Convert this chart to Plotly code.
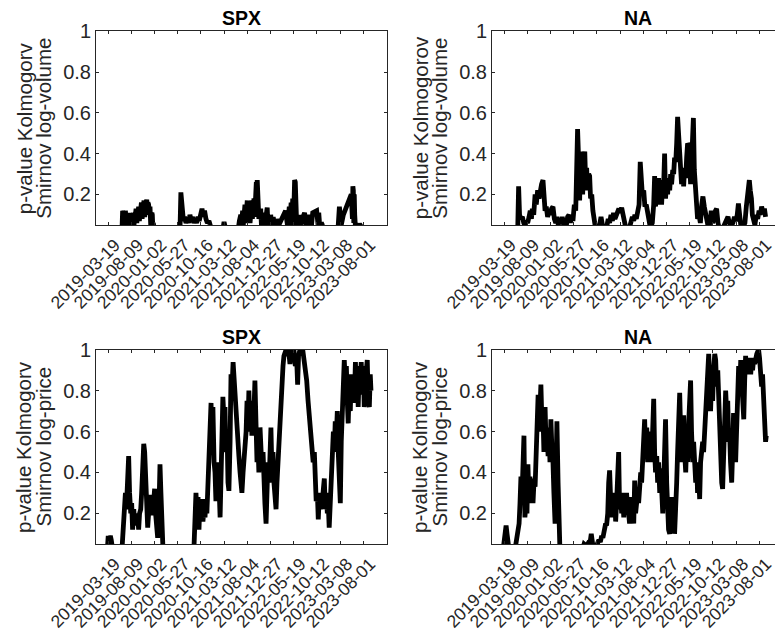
import plotly.graph_objects as go

# ---------------- data (observation index, p-value) ----------------
date_labels = ["2019-03-19", "2019-08-09", "2020-01-02", "2020-05-27", "2020-10-16",
               "2021-03-12", "2021-08-04", "2021-12-27", "2022-05-19", "2022-10-12",
               "2023-03-08", "2023-08-01"]
tick_idx = [0, 100, 200, 300, 400, 500, 600, 700, 800, 900, 1000, 1100]
ytick_vals = [0.2, 0.4, 0.6, 0.8, 1.0]
ytick_text = ["0.2", "0.4", "0.6", "0.8", "1"]

spx_vol_x = [-40, 60, 63, 66, 69, 72, 75, 79, 82, 85, 88, 90, 94, 98, 101, 103, 106, 109, 112, 115, 118,
             121, 124, 126, 129, 132, 135, 138, 141, 144, 147, 149, 152, 155, 158, 161, 164, 167, 170,
             172, 175, 177, 179, 181, 184, 187, 189, 191, 193, 195, 201,
             310, 314, 319, 325, 330, 336, 342, 348, 353, 359, 365, 370, 376, 382, 388, 393, 399, 405,
             411, 416, 422, 428, 435, 442, 448,
             494, 500, 507,
             560, 566, 572, 576, 580, 583, 586, 588, 590, 593, 595, 598, 600, 603, 605, 607, 609, 612,
             615, 618, 620, 622, 623, 626, 629, 632, 635, 637, 639, 641, 643, 646, 648, 650, 652,
             655, 658, 661, 663, 666, 669, 672, 675, 678, 681, 684, 686, 689, 692, 695, 698, 701, 704,
             707, 709, 712, 715, 718, 721, 724, 727, 732,
             765, 773, 776, 778, 781, 783, 785, 787, 789, 791, 794, 796, 799, 801, 804, 807, 810, 813,
             815, 817, 819, 821, 824, 827, 833,
             847, 853, 856, 859, 862, 864, 867, 870, 873, 876, 882,
             899, 905, 908, 910, 913, 916, 919, 922, 928,
             991, 997, 1005, 1014,
             1048, 1053, 1055, 1057, 1059, 1061, 1063, 1066, 1068, 1070, 1072, 1074, 1078, 1084,
             1097, 1103, 1110, 1117, 1124, 1130]
spx_vol_y = [0.02, 0.02, 0.12, 0.05, 0.12, 0.04, 0.12, 0.06, 0.11, 0.04, 0.11, 0.05, 0.09, 0.10, 0.04,
             0.07, 0.11, 0.11, 0.05, 0.08, 0.12, 0.13, 0.06, 0.09, 0.14, 0.14, 0.07, 0.10, 0.15, 0.16,
             0.08, 0.12, 0.17, 0.17, 0.09, 0.13, 0.175, 0.175, 0.10, 0.16, 0.15, 0.12, 0.06, 0.14,
             0.05, 0.08, 0.11, 0.10, 0.04, 0.06, 0.02,
             0.02, 0.21, 0.10, 0.07, 0.09, 0.06, 0.08, 0.06, 0.10, 0.07, 0.09, 0.06, 0.08, 0.06, 0.09,
             0.07, 0.10, 0.13, 0.09, 0.12, 0.08, 0.06, 0.07, 0.05, 0.02,
             0.02, 0.065, 0.03,
             0.02, 0.07, 0.10, 0.06, 0.12, 0.05, 0.08, 0.13, 0.15, 0.06, 0.10, 0.16, 0.17, 0.07, 0.12,
             0.16, 0.16, 0.06, 0.11, 0.17, 0.17, 0.08, 0.13, 0.18, 0.18, 0.09, 0.20, 0.22, 0.26, 0.24,
             0.27, 0.15, 0.20, 0.08, 0.10, 0.12, 0.13, 0.05, 0.07, 0.11, 0.06, 0.10, 0.04, 0.09, 0.06,
             0.12, 0.135, 0.05, 0.08, 0.10, 0.04, 0.10, 0.06, 0.09, 0.04, 0.09, 0.05, 0.08, 0.03,
             0.03, 0.08, 0.04, 0.12, 0.05, 0.07, 0.13, 0.14, 0.05, 0.09, 0.15, 0.16, 0.06, 0.12, 0.18,
             0.05, 0.22, 0.27, 0.26, 0.12, 0.05, 0.10, 0.06, 0.03,
             0.03, 0.10, 0.04, 0.07, 0.11, 0.04, 0.09, 0.06, 0.10, 0.04, 0.03,
             0.03, 0.09, 0.04, 0.11, 0.12, 0.05, 0.11, 0.08, 0.03,
             0.03, 0.06, 0.055, 0.03,
             0.03, 0.14, 0.05, 0.10, 0.20, 0.08, 0.24, 0.22, 0.06, 0.20, 0.10, 0.04, 0.06, 0.03,
             0.03, 0.055, 0.04, 0.055, 0.03, 0.02]

na_vol_x = [-40, 59, 63, 67, 73, 79, 85, 90, 96, 102, 108, 113, 118, 122, 128, 134, 139, 145, 151, 157,
            162, 168, 172, 177, 182, 188, 194, 200, 205, 211, 217, 223, 228, 234, 240, 246, 251, 257,
            263, 269, 274, 280, 286, 292, 297, 303, 309, 314, 317, 322, 326, 330, 335, 339, 343, 348,
            352, 356, 360, 365, 369, 373, 378, 383, 389, 395,
            409, 418, 424, 435, 444, 449, 455, 461, 467, 472, 478, 484, 490, 495, 501, 507, 513, 518,
            524, 539, 547, 553, 559, 564, 570, 576, 582, 587, 592, 596, 602, 607, 613, 619, 625, 630,
            639, 645, 649, 653, 658, 662, 666, 671, 675, 679, 684, 688, 692, 696, 701, 705, 709, 714,
            718, 722, 727, 731, 735, 740, 744, 748, 752, 757, 761, 765, 770, 774, 778, 783, 787, 791,
            796, 800, 804, 808, 813, 816, 820, 824, 829, 834, 840, 846, 852, 857, 863, 869, 875, 880,
            888, 893, 899, 905, 911, 916, 922, 928, 941, 949, 958, 965, 971, 978, 986, 993, 999, 1005,
            1010, 1015, 1021, 1030, 1038, 1044, 1049, 1053, 1057, 1061, 1066, 1070, 1076, 1081, 1087,
            1093, 1099, 1104, 1110, 1116, 1122, 1127]
na_vol_y = [0.02, 0.02, 0.24, 0.10, 0.08, 0.09, 0.06, 0.05, 0.07, 0.06, 0.09, 0.12, 0.08, 0.13, 0.10, 0.20,
            0.15, 0.22, 0.18, 0.23, 0.25, 0.27, 0.20, 0.12, 0.14, 0.09, 0.12, 0.10, 0.13, 0.14, 0.08,
            0.06, 0.09, 0.05, 0.08, 0.06, 0.09, 0.05, 0.07, 0.05, 0.09, 0.10, 0.06, 0.10, 0.07, 0.15,
            0.12, 0.45, 0.52, 0.35, 0.17, 0.41, 0.30, 0.20, 0.38, 0.41, 0.25, 0.33, 0.22, 0.30, 0.29,
            0.18, 0.20, 0.12, 0.07, 0.03,
            0.03, 0.09, 0.05, 0.03, 0.05, 0.08, 0.06, 0.10, 0.07, 0.11, 0.08, 0.10, 0.12, 0.13, 0.11,
            0.135, 0.10, 0.06, 0.04, 0.03, 0.06, 0.09, 0.07, 0.10, 0.08, 0.11, 0.15, 0.36, 0.30, 0.20,
            0.22, 0.14, 0.15, 0.10, 0.06, 0.04,
            0.06, 0.15, 0.29, 0.14, 0.28, 0.15, 0.28, 0.18, 0.27, 0.15, 0.27, 0.25, 0.40, 0.18, 0.26,
            0.20, 0.28, 0.22, 0.30, 0.25, 0.32, 0.30, 0.38, 0.36, 0.45, 0.58, 0.50, 0.38, 0.33, 0.25,
            0.32, 0.24, 0.33, 0.28, 0.38, 0.45, 0.44, 0.30, 0.25, 0.35, 0.50, 0.575, 0.32, 0.25, 0.12,
            0.08, 0.10, 0.06, 0.15, 0.19, 0.14, 0.10, 0.06, 0.04, 0.06, 0.12, 0.06, 0.08, 0.12, 0.13,
            0.06, 0.03, 0.03, 0.05, 0.06, 0.09, 0.06, 0.05, 0.06, 0.09, 0.07, 0.10, 0.155, 0.06, 0.04,
            0.04, 0.06, 0.14, 0.21, 0.25, 0.27, 0.22, 0.18, 0.10, 0.06, 0.05, 0.10, 0.08, 0.12, 0.10,
            0.14, 0.11, 0.13, 0.09]

spx_price_x = [-3, 1, 6, 10, 14, 19,
               60, 66, 70, 75, 79, 83, 89, 93, 98, 102, 106, 111, 115, 119, 123, 128, 132, 136, 141,
               145, 149, 154, 158, 162, 167, 171, 175, 179, 184, 188, 192, 197, 201, 205, 210, 214, 218,
               224, 228, 233, 237,
               370, 375, 379, 383, 388, 392, 396, 401, 405, 409, 414, 418, 422, 426, 431, 435, 439, 444,
               448, 452, 457, 461, 465, 470, 474, 478, 483, 487, 491, 495, 500, 504, 508, 513, 517, 521,
               526, 530, 534, 539, 543, 547, 551, 556, 560, 564, 569, 573, 577, 582, 586, 590, 595, 599,
               603, 607, 612, 616, 620, 625, 629, 633, 638, 642, 646, 650, 655, 659, 663, 668, 672, 676,
               681, 685, 689, 694, 698, 702, 706, 711, 715, 719, 724, 728, 732, 737, 741, 745, 749, 754,
               758, 762, 767, 773, 778, 784, 790, 796, 801, 807, 813, 817, 821, 827, 833, 839, 844, 850,
               856, 862, 867, 873, 879, 884, 889, 893, 897, 902, 906, 910, 915, 919, 923, 928, 932, 936,
               941, 945, 949, 953, 958, 962, 966, 971, 975, 979, 983, 988, 992, 996, 1001, 1005, 1009,
               1014, 1018, 1022, 1027, 1031, 1035, 1040, 1044, 1048, 1053, 1057, 1061, 1066, 1070, 1074,
               1078, 1083, 1087, 1091, 1096, 1100, 1104, 1109, 1113, 1117, 1121, 1126, 1130, 1133]
spx_price_y = [0.02, 0.09, 0.06, 0.09, 0.07, 0.03,
               0.02, 0.12, 0.20, 0.30, 0.22, 0.30, 0.48, 0.30, 0.20, 0.25, 0.12, 0.22, 0.15, 0.20, 0.14,
               0.19, 0.12, 0.20, 0.22, 0.30, 0.45, 0.54, 0.50, 0.38, 0.22, 0.13, 0.20, 0.29, 0.20, 0.28,
               0.19, 0.30, 0.32, 0.20, 0.12, 0.08, 0.15, 0.44, 0.30, 0.06, 0.02,
               0.02, 0.15, 0.30, 0.20, 0.28, 0.12, 0.25, 0.20, 0.27, 0.16, 0.23, 0.18, 0.27, 0.20, 0.32,
               0.45, 0.60, 0.74, 0.55, 0.72, 0.45, 0.40, 0.26, 0.45, 0.30, 0.35, 0.18, 0.35, 0.55, 0.77,
               0.65, 0.72, 0.50, 0.60, 0.35, 0.31, 0.55, 0.88, 0.80, 0.94, 0.85, 0.78, 0.72, 0.65, 0.58,
               0.48, 0.40, 0.35, 0.30, 0.40, 0.45, 0.52, 0.60, 0.75, 0.62, 0.80, 0.60, 0.70, 0.58, 0.75,
               0.70, 0.85, 0.55, 0.45, 0.55, 0.40, 0.62, 0.48, 0.42, 0.50, 0.32, 0.25, 0.15, 0.30, 0.45,
               0.35, 0.50, 0.62, 0.42, 0.50, 0.35, 0.30, 0.22, 0.35, 0.45, 0.50, 0.62, 0.78, 0.86, 0.92,
               0.97, 0.99, 1.00, 0.97, 1.00, 0.93, 1.00, 0.96, 1.00, 0.92, 0.95, 0.83, 0.97, 1.00, 0.98,
               1.00, 0.96, 0.90, 0.85, 0.75, 0.68, 0.60, 0.55, 0.45, 0.50, 0.30, 0.26, 0.30, 0.17, 0.28,
               0.22, 0.30, 0.25, 0.32, 0.37, 0.22, 0.30, 0.20, 0.25, 0.13, 0.25, 0.35, 0.38, 0.60, 0.50,
               0.65, 0.55, 0.70, 0.50, 0.30, 0.25, 0.55, 0.70, 0.80, 0.95, 0.85, 0.92, 0.75, 0.64, 0.85,
               0.70, 0.88, 0.76, 0.82, 0.74, 0.94, 0.82, 0.88, 0.72, 0.92, 0.85, 0.94, 0.78, 0.92, 0.72,
               0.85, 0.90, 0.95, 0.76, 0.72, 0.88, 0.80]

na_price_x = [-4, 0, 4, 9, 13, 17, 22,
              47, 53, 59, 65, 69, 73, 78, 82, 86, 90, 95, 99, 103, 108, 112, 116, 121, 125, 129, 134,
              138, 142, 147, 151, 155, 159, 164, 168, 172, 177, 181, 185, 190, 194, 198, 202, 207, 211,
              215, 220, 224, 228, 233, 237, 241,
              337, 345, 355, 363, 370, 376, 382, 392, 402, 409, 415, 421, 426, 432, 438, 442, 447, 451,
              455, 460, 464, 468, 472, 477, 481, 485, 490, 494, 498, 503, 507, 511, 516, 520, 524, 528,
              533, 537, 541, 546, 550, 554, 559, 563, 567, 572, 576, 580, 584, 589, 593, 597, 602, 606,
              610, 615, 619, 623, 628, 632, 636, 640, 645, 649, 653, 658, 662, 666, 671, 675, 679, 684,
              688, 692, 696, 701, 705, 709, 714, 718, 722, 727, 731, 735, 740, 744, 748, 752, 757, 761,
              765, 770, 774, 778, 783, 787, 791, 796, 800, 804, 808, 813, 817, 821, 826, 830, 834, 839,
              843, 847, 852, 856, 860, 865, 869, 873, 877, 882, 886, 890, 895, 899, 903, 908, 912, 916,
              921, 925, 929, 933, 938, 942, 946, 951, 955, 959, 964, 968, 972, 976, 981, 985, 989, 994,
              998, 1002, 1007, 1011, 1015, 1020, 1024, 1028, 1033, 1037, 1041, 1045, 1050, 1054, 1058,
              1063, 1067, 1071, 1076, 1080, 1084, 1089, 1093, 1097, 1101, 1106, 1110, 1114, 1119, 1123,
              1127, 1130]
na_price_y = [0.02, 0.06, 0.13, 0.14, 0.10, 0.05, 0.02,
              0.02, 0.06, 0.10, 0.15, 0.25, 0.38, 0.30, 0.40, 0.58, 0.18, 0.25, 0.20, 0.44, 0.25, 0.38,
              0.30, 0.37, 0.25, 0.35, 0.33, 0.45, 0.55, 0.78, 0.60, 0.72, 0.83, 0.62, 0.68, 0.50, 0.72,
              0.55, 0.60, 0.48, 0.62, 0.45, 0.66, 0.50, 0.45, 0.30, 0.15, 0.40, 0.65, 0.35, 0.05, 0.02,
              0.02, 0.05, 0.04, 0.055, 0.05, 0.10, 0.05, 0.04, 0.05, 0.07, 0.06, 0.09, 0.08, 0.12, 0.15,
              0.14, 0.20, 0.35, 0.41, 0.25, 0.18, 0.30, 0.20, 0.30, 0.16, 0.25, 0.35, 0.50, 0.22, 0.28,
              0.20, 0.30, 0.18, 0.28, 0.20, 0.30, 0.22, 0.20, 0.15, 0.28, 0.18, 0.25, 0.15, 0.36, 0.20,
              0.25, 0.30, 0.25, 0.35, 0.40, 0.35, 0.45, 0.55, 0.66, 0.50, 0.62, 0.45, 0.60, 0.50, 0.55,
              0.45, 0.60, 0.76, 0.50, 0.40, 0.48, 0.35, 0.45, 0.30, 0.42, 0.25, 0.20, 0.35, 0.45, 0.66,
              0.35, 0.20, 0.12, 0.10, 0.20, 0.28, 0.15, 0.25, 0.10, 0.20, 0.35, 0.50, 0.65, 0.79, 0.60,
              0.45, 0.55, 0.68, 0.50, 0.40, 0.55, 0.45, 0.65, 0.75, 0.85, 0.60, 0.45, 0.55, 0.40, 0.35,
              0.45, 0.30, 0.38, 0.27, 0.45, 0.50, 0.55, 0.50, 0.62, 0.70, 0.85, 0.95, 0.98, 0.85, 0.70,
              0.88, 0.75, 0.90, 0.98, 0.95, 0.82, 0.90, 0.75, 0.60, 0.45, 0.35, 0.32, 0.45, 0.60, 0.80,
              0.70, 0.75, 0.55, 0.60, 0.45, 0.35, 0.50, 0.69, 0.55, 0.45, 0.60, 0.82, 0.92, 0.80, 0.95,
              0.85, 0.72, 0.66, 0.85, 0.97, 0.88, 0.95, 0.90, 0.96, 0.88, 0.95, 0.90, 0.96, 0.93, 0.97,
              0.98, 0.99, 1.00, 0.96, 0.88, 0.82, 0.88, 0.78, 0.70, 0.55, 0.58]

titles = ["SPX", "NA", "SPX", "NA"]
ylabels = [("p-value Kolmogorv", "Smirnov log-volume"),
           ("p-value Kolmogorov", "Smirnov log-volume"),
           ("p-value Kolmogorv", "Smirnov log-price"),
           ("p-value Kolmogorv", "Smirnov log-price")]
series = [(spx_vol_x, spx_vol_y), (na_vol_x, na_vol_y), (spx_price_x, spx_price_y), (na_price_x, na_price_y)]

# ---------------- layout ----------------
W, H = 775, 636
FONT = "Liberation Sans, Arial, Helvetica, sans-serif"
AX = "#262626"
px_per_obs = 0.2321
# panel pixel boxes: left, right, top, bottom
boxes = [(96, 387, 31.3, 225.0), (492, 775, 31.3, 225.0),
         (96, 387, 349.8, 544.0), (492, 775, 349.8, 544.0)]

fig = go.Figure()
annotations = []
for i, ((xs, ys), (l, r, t, b)) in enumerate(zip(series, boxes)):
    n = i + 1
    xa = "x" if n == 1 else f"x{n}"
    ya = "y" if n == 1 else f"y{n}"
    fig.add_trace(go.Scatter(x=xs, y=ys, mode="lines", xaxis=xa, yaxis=ya,
                             line=dict(color="black", width=4.8), showlegend=False,
                             hoverinfo="skip"))
    x0 = -51.7
    x1 = x0 + (r - l) / px_per_obs
    is_right = (i % 2 == 1)
    xkey = "xaxis" if n == 1 else f"xaxis{n}"
    ykey = "yaxis" if n == 1 else f"yaxis{n}"
    fig.layout[xkey] = dict(domain=[l / W, r / W], range=[x0, x1], anchor=ya,
                            tickvals=tick_idx, ticktext=date_labels, tickangle=-45,
                            ticks="inside", ticklen=3, tickcolor=AX, tickwidth=1,
                            showline=True, linecolor=AX, linewidth=1, mirror="ticks",
                            showgrid=False, zeroline=False, automargin=False,
                            ticklabelshift=7, ticklabelstandoff=2, ticklabeloverflow="allow",
                            tickfont=dict(family=FONT, size=17.5, color=AX))
    fig.layout[ykey] = dict(domain=[1 - b / H, 1 - t / H], range=[0.05, 1.0], anchor=xa,
                            tickvals=ytick_vals, ticktext=ytick_text,
                            ticks="inside", ticklen=3, tickcolor=AX, tickwidth=1,
                            showline=True, linecolor=AX, linewidth=1,
                            mirror=False if is_right else "ticks",
                            showgrid=False, zeroline=False, automargin=False,
                            tickfont=dict(family=FONT, size=20, color=AX))
    # title centred over the full (uncropped) axes width
    cx = (l + (387 - 96) / 2) / W
    annotations.append(dict(text=f"<b>{titles[i]}</b>", x=cx, y=1 - (t - 13) / H,
                            xref="paper", yref="paper", showarrow=False,
                            xanchor="center", yanchor="middle",
                            font=dict(family=FONT, size=19.5, color="black")))
    # y labels (two lines)
    cy = 1 - ((t + b) / 2) / H
    for j, txt in enumerate(ylabels[i]):
        annotations.append(dict(text=txt, x=(l - 72 + j * 19.5) / W, y=cy,
                                xref="paper", yref="paper", showarrow=False,
                                textangle=-90, xanchor="center", yanchor="middle",
                                font=dict(family=FONT, size=20.5, color=AX)))

fig.update_layout(template="none", width=W, height=H, margin=dict(l=0, r=0, t=0, b=0),
                  paper_bgcolor="white", plot_bgcolor="white",
                  annotations=annotations)

fig.write_html("out.html")
